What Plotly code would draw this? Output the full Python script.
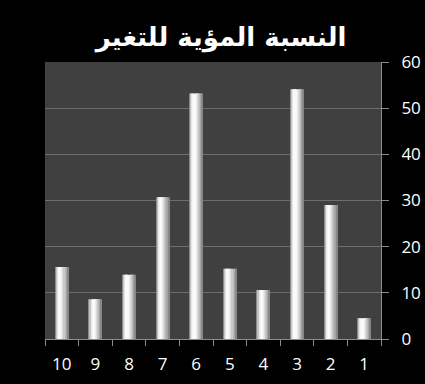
import plotly.graph_objects as go

categories = ["10", "9", "8", "7", "6", "5", "4", "3", "2", "1"]
values = [15.6, 8.6, 13.9, 30.7, 53.2, 15.2, 10.6, 54.1, 29.0, 4.5]
title_text = "النسبة المؤية للتغير"

# horizontal shading profile across each bar (left -> right)
stripe_colors = ["#8a8a8a", "#c4c4c4", "#e6e6e6", "#f6f6f6", "#fdfdfd", "#f8f8f8",
                 "#ececec", "#dcdcdc", "#cbcbcb", "#b9b9b9", "#a6a6a6", "#888888"]
bar_w = 0.39
n = len(stripe_colors)
sw = bar_w / n

fig = go.Figure()
for i, c in enumerate(stripe_colors):
    fig.add_trace(go.Bar(
        x=categories, y=values,
        width=sw * 1.05, offset=-bar_w / 2 + i * sw,
        marker=dict(color=c, line=dict(width=0)),
        showlegend=False, hoverinfo="skip"))

fig.update_layout(
    width=425, height=384,
    paper_bgcolor="black", plot_bgcolor="#404040",
    margin=dict(l=45, r=44, t=62, b=45, autoexpand=False),
    barmode="overlay",
    title=dict(text="<b>" + title_text + "</b>", x=0.52, xanchor="center",
               y=0.905, yanchor="middle", automargin=False,
               font=dict(family="DejaVu Sans", size=26, color="white")),
    font=dict(family="Open Sans", color="white", size=17),
    xaxis=dict(type="category", categoryorder="array", categoryarray=categories,
               tickson="boundaries", ticks="outside", ticklen=6, tickcolor="#8c8c8c",
               showline=True, linecolor="#8c8c8c", linewidth=1, automargin=False,
               showgrid=False, ticklabelstandoff=10,
               tickfont=dict(family="Open Sans", size=17, color="white")),
    yaxis=dict(side="right", range=[0, 60], dtick=10, ticks="outside", ticklen=7,
               tickcolor="#8c8c8c", showline=True, linecolor="#8c8c8c",
               gridcolor="#6e6e6e", gridwidth=1, zeroline=False, automargin=False,
               ticklabelstandoff=9,
               tickfont=dict(family="Open Sans", size=17, color="white")),
)

fig.write_html("out.html")
